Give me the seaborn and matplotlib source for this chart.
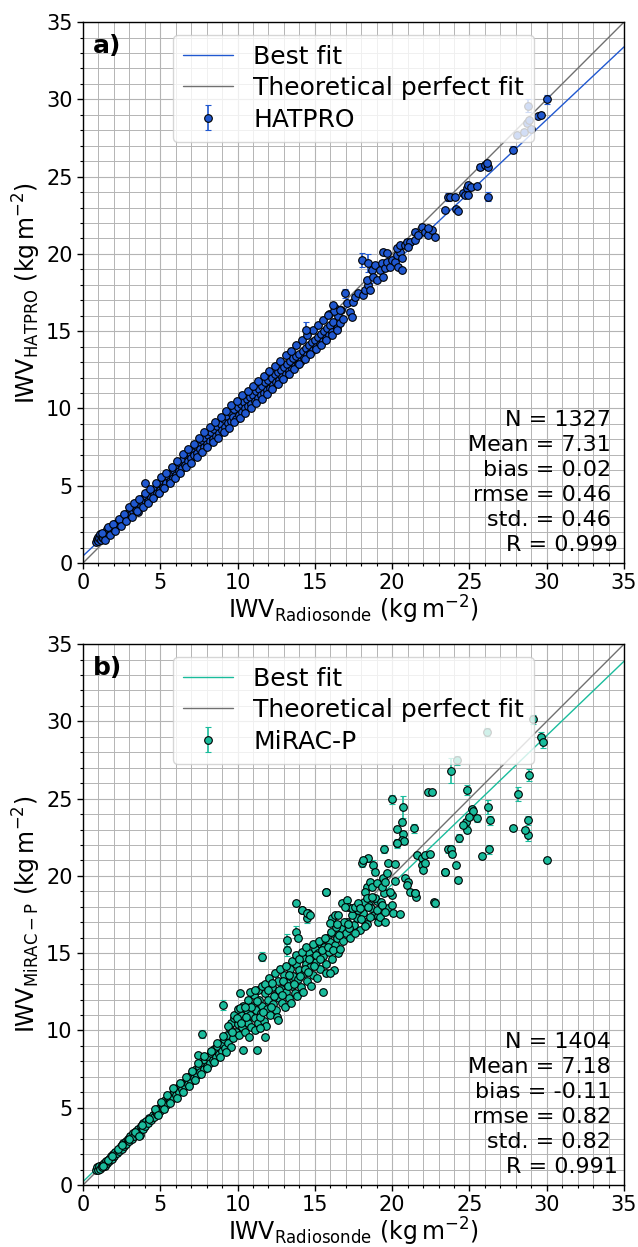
import numpy as np
import matplotlib
matplotlib.use("Agg")
import matplotlib.pyplot as plt
import seaborn as sns
from matplotlib.ticker import MultipleLocator

# ---- panel a: HATPRO vs radiosonde ----
hat_band_x = [0.85, 0.9, 0.95, 1.0, 1.05, 1.1, 1.15, 1.2, 1.3, 1.35, 1.4, 1.5, 1.55, 1.6, 1.7, 1.75, 1.8, 1.9,
              2.0, 2.05, 2.1, 2.2, 2.3, 2.35, 2.45, 2.5, 2.6, 2.7, 2.75, 2.85, 2.9, 3.0, 3.1, 3.2, 3.25, 3.35,
              3.4, 3.5, 3.55, 3.6, 3.7, 3.75, 3.85, 3.9, 4.0, 4.0,
              4.1, 4.2, 4.3, 4.4, 4.5, 4.6, 4.7, 4.8, 4.9, 5.0, 5.1, 5.2, 5.3, 5.4, 5.5, 5.6, 5.7, 5.8, 5.9,
              6.0, 6.1, 6.2, 6.3, 6.4, 6.5, 6.6, 6.7, 6.8, 6.9, 7.0, 7.1, 7.2, 7.3, 7.4, 7.5, 7.6, 7.7, 7.8,
              7.9, 8.0, 8.1, 8.2, 8.3, 8.4, 8.5, 8.6, 8.7, 8.8, 8.9, 9.0,
              9.1, 9.2, 9.3, 9.4, 9.5, 9.6, 9.7, 9.8, 9.9, 10.0, 10.1, 10.2, 10.3, 10.4, 10.5, 10.6, 10.7,
              10.8, 10.9, 11.0, 11.1, 11.2, 11.3, 11.4, 11.5, 11.6, 11.7, 11.8, 11.9, 12.0, 12.1, 12.2, 12.3,
              12.4, 12.5, 12.6, 12.7, 12.8, 12.9, 13.0, 13.1, 13.2, 13.3, 13.4, 13.5, 13.6, 13.7, 13.8, 13.9,
              14.0, 14.1, 14.2, 14.3, 14.4, 14.5, 14.6, 14.7, 14.8, 14.9, 15.0, 15.1, 15.2, 15.3, 15.4, 15.5,
              15.6, 15.7, 15.8, 15.9, 16.0, 16.1, 16.2, 16.3, 16.4, 16.5, 16.6, 16.7, 16.8]
hat_band_y = [1.35, 1.55, 1.7, 1.45, 1.6, 1.85, 1.5, 1.7, 1.6, 1.95, 1.75, 1.9, 2.2, 1.85, 2.05, 2.35, 2.0, 2.3,
              2.2, 2.5, 2.35, 2.6, 2.45, 2.75, 2.65, 2.9, 2.8, 3.05, 2.9, 3.2, 3.0, 3.3, 3.15, 3.55, 3.35, 3.7,
              3.45, 3.85, 3.3, 3.6, 4.0, 3.75, 4.2, 3.9, 4.1, 5.2,
              4.35, 4.0, 4.55, 4.25, 4.7, 4.4, 4.9, 4.55, 5.05, 4.75, 5.25, 4.95, 5.45, 5.15, 5.6, 5.3, 5.8, 5.5, 6.0,
              5.7, 6.2, 5.95, 6.45, 6.15, 6.7, 6.35, 6.95, 6.6, 7.15, 6.8, 7.3, 7.0, 7.55, 7.15, 7.75, 7.35, 7.95, 7.5,
              8.1, 7.7, 8.3, 7.9, 8.5, 8.05, 8.7, 8.25, 8.85, 8.4, 9.0, 8.6,
              9.3, 8.8, 9.5, 9.05, 9.75, 9.2, 9.45, 9.95, 9.35, 10.1, 9.6, 10.3, 9.8, 10.45, 10.0, 10.6, 10.15,
              10.75, 10.3, 10.9, 10.5, 11.1, 10.65, 11.25, 10.85, 11.45, 11.0, 11.7, 11.2, 11.85, 11.35, 12.0, 11.5,
              12.2, 11.7, 12.35, 11.85, 12.5, 12.05, 12.7, 12.2, 12.9, 12.4, 13.05, 12.55, 13.25, 12.75, 13.4, 12.9,
              13.55, 13.1, 13.75, 13.25, 13.9, 13.45, 14.1, 13.6, 14.3, 13.8, 14.45, 14.0, 14.65, 14.2, 14.85, 14.35,
              15.0, 14.55, 15.2, 14.75, 15.4, 14.95, 15.6, 16.5, 15.2, 16.0, 15.5, 16.35, 15.8]
# points along the upper and lower edge of the dense cloud
hat_edge_x = [1.25, 1.6, 1.95, 2.3, 2.65, 3.0, 3.3, 3.65, 4.0, 4.35, 4.7, 5.05, 5.4, 5.75, 6.1, 6.45, 6.8,
              7.15, 7.5, 7.85, 8.2, 8.55, 8.9, 9.25, 9.6, 9.95, 10.3, 10.65, 11.0, 11.35, 11.7, 12.05, 12.4,
              12.75, 13.1, 13.45, 13.8, 14.15, 14.5, 14.85, 15.2, 15.55, 15.9, 16.25,
              1.4, 1.75, 2.1, 2.45, 2.8, 3.15, 3.5, 3.85, 4.2, 4.55, 4.9, 5.25, 5.6, 5.95, 6.3, 6.65, 7.0,
              7.35, 7.7, 8.05, 8.4, 8.75, 9.1, 9.45, 9.8, 10.15, 10.5, 10.85, 11.2, 11.55, 11.9, 12.25, 12.6,
              12.95, 13.3, 13.65, 14.0, 14.35, 14.7, 15.05, 15.4, 15.75, 16.1, 16.45]
hat_edge_y = [1.95, 2.3, 2.55, 2.85, 3.2, 3.6, 3.9, 4.15, 4.55, 4.8, 5.2, 5.55, 5.85, 6.2, 6.6, 7.05, 7.35,
              7.7, 8.1, 8.45, 8.8, 9.15, 9.45, 9.85, 10.2, 10.5, 10.85, 11.15, 11.45, 11.8, 12.1, 12.45, 12.75,
              13.1, 13.45, 13.75, 14.1, 14.4, 14.75, 15.05, 15.4, 15.7, 16.1, 16.3,
              1.5, 1.8, 2.1, 2.4, 2.7, 3.0, 3.35, 3.6, 3.9, 4.2, 4.5, 4.85, 5.15, 5.5, 5.85, 6.2, 6.5,
              6.85, 7.2, 7.5, 7.85, 8.1, 8.5, 8.75, 9.1, 9.4, 9.7, 10.0, 10.35, 10.6, 10.95, 11.25, 11.6,
              11.9, 12.25, 12.55, 12.9, 13.2, 13.5, 13.85, 14.1, 14.45, 14.75, 15.1]
hat_band_err = 0.12

hat_x = [14.45, 15.87, 16.2, 16.63, 17.06, 17.27, 17.38, 16.95, 17.49, 17.6, 17.81, 18.13, 18.24, 18.46, 18.57,
         18.03, 18.46, 18.35, 18.67, 18.78, 18.99, 18.89, 19.21, 19.43, 19.32, 19.54, 19.64, 19.86, 19.97, 19.43,
         19.64, 20.18, 20.4, 20.61, 20.29, 20.5, 20.61, 20.29, 20.5, 20.83, 20.94, 21.15, 21.04, 21.47, 21.47,
         21.69, 21.9, 22.12, 22.34, 22.55, 22.77, 22.34, 23.42, 23.63, 23.73, 24.06, 24.1, 24.25, 24.6, 24.81,
         24.7, 24.92, 25.13, 25.46, 24.92, 25.67, 25.99, 26.21, 26.15, 26.2, 27.8, 28.1, 28.5, 28.7, 28.86,
         28.97, 28.76, 29.45, 29.6, 30.0]
hat_y = [15.1, 16.05, 16.69, 16.37, 16.8, 16.26, 15.94, 17.45, 16.9, 17.23, 17.45, 17.34, 17.66, 17.98, 17.66,
         19.6, 19.4, 18.31, 18.95, 18.52, 18.31, 19.28, 18.95, 18.52, 19.39, 19.06, 19.49, 19.17, 19.6, 20.14,
         20.03, 19.49, 19.17, 18.95, 19.92, 20.14, 19.71, 20.36, 20.57, 20.57, 20.79, 20.79, 20.46, 20.9, 21.43,
         21.22, 21.76, 21.43, 21.22, 21.54, 21.11, 21.65, 22.83, 23.7, 23.7, 23.7, 22.9, 22.78, 23.92, 24.24,
         23.81, 24.46, 24.35, 24.39, 23.81, 25.64, 25.75, 25.64, 25.86, 23.7, 26.75, 27.7, 27.9, 28.45, 28.66,
         28.1, 29.6, 28.9, 29.0, 30.0]
hat_err = [0.5, 0.15, 0.15, 0.15, 0.15, 0.15, 0.15, 0.3, 0.15, 0.15, 0.15, 0.15, 0.15, 0.15, 0.15,
           0.45, 0.6, 0.15, 0.15, 0.15, 0.15, 0.2, 0.15, 0.15, 0.15, 0.15, 0.15, 0.15, 0.15, 0.15,
           0.15, 0.15, 0.15, 0.15, 0.15, 0.15, 0.15, 0.15, 0.15, 0.15, 0.15, 0.15, 0.15, 0.15, 0.2,
           0.15, 0.2, 0.15, 0.15, 0.15, 0.15, 0.15, 0.15, 0.25, 0.2, 0.15, 0.15, 0.15, 0.15, 0.15,
           0.15, 0.15, 0.15, 0.15, 0.15, 0.2, 0.2, 0.15, 0.15, 0.3, 0.2, 0.2, 0.15, 0.2, 0.15,
           0.15, 0.45, 0.15, 0.15, 0.3]
hat_fit = (0.941, 0.46)
hat_stats = ["N = 1327 ", "Mean = 7.31 ", "bias = 0.02 ", "rmse = 0.46 ", "std. = 0.46 ", "R = 0.999"]

# ---- panel b: MiRAC-P vs radiosonde ----
mir_band_x = [0.85, 0.9, 1.0, 1.05, 1.1, 1.2, 1.25, 1.35, 1.4, 1.5, 1.55, 1.65, 1.7, 1.8, 1.85, 1.95, 2.0, 2.1,
              2.2, 2.3, 2.35, 2.45, 2.5, 2.6, 2.65, 2.75, 2.8, 2.9, 3.0, 3.05, 3.15, 3.25, 3.3, 3.4, 3.5, 3.55,
              3.65, 3.7, 3.75, 3.85, 3.9, 4.0, 4.1, 4.2, 4.3, 4.4, 4.5,
              4.6, 4.7, 4.8, 4.9, 5.0, 5.1, 5.2, 5.3, 5.4, 5.5, 5.6, 5.7, 5.8, 5.9, 6.0, 6.1, 6.2, 6.3, 6.4,
              6.5, 6.6, 6.7, 6.8, 6.9, 7.0, 7.1, 7.2, 7.3, 7.4, 7.45, 7.5, 7.6, 7.7, 7.8, 7.9, 8.0, 8.1, 8.2,
              8.3, 8.4, 8.5, 8.6, 8.7, 8.8, 8.9, 9.0, 9.1, 9.2,
              9.3, 9.4, 9.5, 9.55, 9.6, 9.7, 9.8, 9.9, 10.0, 10.1, 10.2, 10.3, 10.4, 10.5, 10.6, 10.7, 10.8,
              10.9, 11.0, 11.1, 11.2, 11.3, 11.4, 11.5, 11.6, 11.7, 11.8, 11.9, 12.0, 12.1, 12.2, 12.3, 12.4,
              12.5, 12.6, 12.7, 12.8, 12.9, 13.0, 13.1, 13.2, 13.3, 13.4, 13.5, 13.6, 13.7, 13.8, 13.9, 14.0,
              14.1, 14.2, 14.3, 14.4, 14.5, 14.6, 14.7, 14.8, 14.9, 15.0, 15.1, 15.2, 15.3, 15.4, 15.5, 15.6,
              15.7, 15.8, 15.9, 16.0, 16.1, 16.2, 16.3, 16.4, 16.5, 16.7, 16.8, 17.0, 17.1, 17.3, 17.5, 17.7,
              17.9, 18.1, 18.3, 18.5, 18.8, 19.0, 19.2]
mir_band_y = [1.0, 1.15, 0.95, 1.2, 1.05, 1.3, 1.15, 1.4, 1.25, 1.55, 1.4, 1.7, 1.55, 1.85, 1.7, 2.0, 1.85, 2.15,
              2.05, 2.35, 2.2, 2.5, 2.35, 2.7, 2.5, 2.85, 2.65, 3.0, 2.85, 3.2, 3.0, 3.35, 3.15, 3.5, 3.3, 3.65,
              3.45, 3.25, 3.8, 3.6, 4.0, 3.8, 4.15, 4.0, 4.35, 4.2, 4.55,
              4.4, 4.75, 4.6, 5.0, 4.8, 5.25, 5.0, 5.5, 5.2, 5.7, 5.45, 5.85, 5.6, 6.05, 5.8, 6.25, 6.0, 6.45, 6.2,
              6.6, 6.4, 6.85, 6.55, 7.05, 6.75, 7.3, 6.95, 7.5, 7.1, 8.4, 7.65, 7.3, 7.9, 7.5, 8.1, 7.7, 8.3, 7.9,
              8.55, 8.1, 8.8, 8.3, 9.0, 8.5, 9.2, 8.7, 9.45, 8.85,
              9.7, 9.2, 10.1, 8.95, 10.5, 9.5, 10.8, 9.9, 10.4, 9.7, 11.0, 10.2, 10.7, 9.9, 11.3, 10.5, 11.0,
              10.2, 11.6, 10.8, 11.3, 10.5, 12.0, 11.1, 11.6, 10.6, 12.4, 11.4, 12.0, 11.0, 12.8, 11.7, 12.3,
              11.3, 13.2, 12.1, 12.7, 11.8, 13.6, 12.5, 13.1, 12.1, 14.0, 12.9, 13.5, 12.4, 14.3, 13.3, 13.9,
              12.8, 14.7, 13.7, 14.3, 13.2, 15.0, 14.1, 14.7, 13.6, 15.3, 14.4, 15.0, 14.0, 15.6, 14.8, 15.4,
              14.3, 16.0, 15.1, 15.7, 14.6, 16.3, 15.5, 16.0, 15.0, 16.6, 15.8, 16.3, 17.0, 16.0, 16.8, 17.3,
              16.5, 17.6, 17.0, 18.1, 17.5, 18.4, 17.8]
# extra points filling the spread of the cloud
mir_edge_x = [1.3, 1.6, 1.9, 2.25, 2.55, 2.95, 3.35, 3.6, 3.8, 4.25,
              4.65, 5.05, 5.45, 5.85, 6.25, 6.65, 7.05, 7.45, 7.85, 8.25, 8.65, 9.05,
              4.85, 5.25, 5.65, 6.05, 6.45, 6.85, 7.25, 7.65, 8.05, 8.45, 8.85, 9.25,
              9.35, 9.65, 9.75, 9.95, 10.05, 10.25, 10.35, 10.55, 10.65, 10.75, 10.85, 11.05, 11.15, 11.25,
              11.35, 11.45, 11.55, 11.65, 11.75, 11.85, 11.95, 12.05, 12.15, 12.25, 12.35, 12.45, 12.55, 12.65,
              12.75, 12.85, 12.95, 13.05, 13.15, 13.25, 13.35, 13.45, 13.55, 13.65, 13.75, 13.85, 13.95, 14.05,
              14.15, 14.25, 14.35, 14.45, 14.55, 14.65, 14.75, 14.85, 14.95, 15.05, 15.15, 15.25, 15.35, 15.45,
              15.65, 15.75, 15.85, 16.05, 16.15, 16.25, 16.35, 16.55, 16.65, 16.9, 17.2, 17.4, 17.6, 17.8,
              18.0, 18.2, 18.4, 18.6, 18.9, 19.1, 19.3, 19.5, 19.7]
mir_edge_y = [1.2, 1.6, 1.9, 2.3, 2.6, 2.95, 3.4, 3.2, 3.9, 4.3,
              4.9, 5.35, 5.85, 6.25, 6.6, 7.0, 7.4, 7.9, 8.35, 8.7, 9.2, 9.65,
              4.5, 4.9, 5.3, 5.65, 6.05, 6.4, 6.8, 7.2, 7.55, 7.95, 8.3, 8.6,
              10.3, 9.9, 11.0, 10.8, 11.4, 10.5, 11.6, 10.9, 12.0, 9.6, 11.5, 12.3, 10.0, 11.9,
              12.6, 10.9, 12.9, 11.2, 13.0, 10.3, 12.6, 13.4, 11.5, 13.1, 12.2, 13.7, 10.9, 12.6,
              14.0, 12.3, 13.2, 11.5, 14.2, 12.9, 13.6, 11.8, 14.5, 13.0, 14.9, 12.2, 14.6, 13.5,
              15.1, 12.5, 14.0, 15.4, 13.8, 14.6, 12.9, 15.6, 14.2, 14.9, 13.4, 15.8, 14.6, 15.2,
              16.0, 13.7, 15.4, 16.4, 15.2, 13.9, 16.7, 16.2, 15.3, 17.0, 16.6, 17.5, 16.3, 17.8,
              17.2, 18.3, 16.9, 17.9, 18.6, 17.4, 18.3, 18.9, 17.9]
mir_band_err = 0.15

mir_x = [7.67, 9.07, 11.55, 10.15, 10.8, 11.12, 10.15, 10.47, 11.23, 10.36, 11.77, 11.44, 12.63, 15.54, 13.17,
         13.81, 13.92, 13.17, 13.81, 14.14, 14.46, 14.57, 15.71, 16.0, 14.15, 14.47, 14.69, 15.72, 16.09, 16.3,
         16.52, 16.73, 17.06, 17.16, 17.38, 17.6, 17.81, 17.92, 15.98, 16.41, 16.95, 17.16, 18.24, 18.03, 18.46,
         18.14, 18.78, 18.89, 18.35, 18.24, 18.57, 18.67, 18.35, 18.46, 18.57, 19.0, 19.1, 19.21, 18.67, 19.0,
         19.32, 19.43, 19.54, 19.64, 19.75, 20.18, 20.18, 19.32, 19.54, 19.54, 19.97, 19.97, 20.07, 20.5, 19.86,
         19.49, 20.01, 20.68, 20.63, 20.33, 20.72, 20.61, 20.29, 20.76, 21.41, 20.83, 21.04, 20.94, 21.15, 21.47,
         21.52, 21.58, 21.9, 22.12, 22.44, 21.9, 22.0, 22.12, 22.72, 22.34, 22.6, 23.41, 23.63, 23.78, 24.17,
         24.81, 25.14, 26.15, 26.21, 28.15, 28.86, 29.12, 29.6, 29.73, 28.79, 28.79, 28.6, 27.82, 30.0, 26.25,
         25.8, 26.33, 25.26, 25.5, 24.76, 24.97, 24.84, 24.6, 24.34, 23.81, 23.89, 24.1, 24.25, 23.45, 22.77,
         21.46, 20.32]
mir_y = [9.77, 11.65, 14.77, 12.4, 12.5, 12.62, 11.43, 11.54, 8.74, 8.74, 9.6, 10.14, 10.67, 12.51, 15.85,
         16.39, 15.96, 15.2, 18.22, 17.79, 17.25, 17.57, 18.97, 13.7, 17.79, 17.58, 17.47, 18.98, 17.25, 17.47,
         17.47, 18.27, 18.44, 18.0, 17.9, 18.0, 18.22, 17.9, 16.93, 16.89, 18.0, 16.86, 16.76, 20.81, 21.13,
         21.02, 20.7, 20.27, 19.3, 18.98, 19.62, 19.3, 18.55, 18.0, 17.36, 17.79, 17.04, 17.36, 18.65, 19.51,
         19.3, 19.84, 19.62, 20.16, 20.81, 20.77, 19.69, 18.11, 17.68, 17.04, 18.11, 18.76, 17.58, 17.53, 18.98,
         21.74, 24.95, 24.47, 23.5, 23.03, 22.7, 22.32, 22.1, 22.27, 23.07, 19.84, 19.62, 19.41, 18.98, 18.87,
         18.65, 21.35, 21.13, 21.35, 21.41, 20.7, 20.38, 20.81, 18.29, 25.44, 25.44, 20.27, 21.71, 26.8, 27.49,
         25.55, 24.3, 29.32, 24.47, 25.29, 26.52, 30.12, 29.0, 28.68, 23.6, 22.64, 22.97, 23.08, 21.03, 21.73,
         21.3, 23.6, 24.2, 23.72, 23.5, 23.8, 23.0, 23.3, 22.43, 21.72, 21.4, 20.71, 19.74, 20.27, 18.27,
         18.87, 22.1]
mir_err = [0.25, 0.3, 0.3, 0.15, 0.15, 0.15, 0.15, 0.15, 0.15, 0.15, 0.15, 0.15, 0.15, 0.15, 0.4,
           0.4, 0.2, 0.4, 0.15, 0.15, 0.3, 0.15, 0.2, 0.15, 0.15, 0.15, 0.15, 0.2, 0.15, 0.15,
           0.15, 0.15, 0.15, 0.15, 0.15, 0.15, 0.15, 0.15, 0.15, 0.15, 0.15, 0.15, 0.15, 0.25, 0.2,
           0.2, 0.3, 0.2, 0.15, 0.15, 0.15, 0.15, 0.15, 0.15, 0.15, 0.15, 0.15, 0.15, 0.15, 0.15,
           0.15, 0.2, 0.15, 0.15, 0.15, 0.15, 0.15, 0.15, 0.15, 0.15, 0.15, 0.15, 0.15, 0.15, 0.15,
           0.25, 0.3, 0.7, 0.2, 0.2, 0.2, 0.2, 0.3, 0.2, 0.3, 0.15, 0.15, 0.15, 0.15, 0.15,
           0.15, 0.2, 0.15, 0.15, 0.15, 0.15, 0.15, 0.15, 0.2, 0.15, 0.15, 0.2, 0.2, 0.8, 0.3,
           0.3, 0.15, 0.25, 0.45, 0.45, 0.4, 0.3, 0.3, 0.4, 0.3, 0.35, 0.2, 0.2, 0.2, 0.3,
           0.2, 0.3, 0.2, 0.2, 0.2, 0.2, 0.2, 0.2, 0.25, 0.25, 0.2, 0.2, 0.2, 0.2, 0.25,
           0.2, 0.2]
mir_fit = (0.962, 0.22)
mir_stats = ["N = 1404 ", "Mean = 7.18 ", "bias = -0.11 ", "rmse = 0.82 ", "std. = 0.82 ", "R = 0.991"]

BLUE = "#2058d0"
TEAL = "#1abc9c"

sns.set_theme(style="white")
plt.rcParams['font.family'] = ['DejaVu Sans']
plt.rcParams['mathtext.fontset'] = 'dejavusans'
plt.rcParams.update({"text.color": "black", "axes.labelcolor": "black",
                     "xtick.color": "black", "ytick.color": "black"})

fig = plt.figure(figsize=(6.38, 12.47), dpi=100)
ax_a = fig.add_axes([0.1301, 0.5485, 0.848, 0.4338])
ax_b = fig.add_axes([0.1301, 0.0497, 0.848, 0.4338])


def draw_panel(ax, band_x, band_y, band_err, x, y, err, fit, color, name, ylab, stats, tag):
    line_x = np.array([0.0, 35.0])
    sns.lineplot(x=line_x, y=fit[0] * line_x + fit[1], ax=ax, color=color, lw=1.0,
                 label="Best fit", zorder=1.5)
    sns.lineplot(x=line_x, y=line_x, ax=ax, color="#707070", lw=1.0,
                 label="Theoretical perfect fit", zorder=1.5)
    all_x = np.concatenate([band_x, x])
    all_y = np.concatenate([band_y, y])
    all_e = np.concatenate([np.full(len(band_x), band_err), err])
    ax.errorbar(all_x, all_y, yerr=all_e, fmt="o", ms=5.5, mfc=color, mec="black", mew=0.8,
                ecolor=color, elinewidth=1.2, capsize=2.5, capthick=1.2, label=name, zorder=2)

    ax.set_xlim(0, 35)
    ax.set_ylim(0, 35)
    ax.xaxis.set_major_locator(MultipleLocator(5))
    ax.yaxis.set_major_locator(MultipleLocator(5))
    ax.xaxis.set_minor_locator(MultipleLocator(1))
    ax.yaxis.set_minor_locator(MultipleLocator(1))
    ax.grid(which="major", color="#b4b4b4", lw=0.8)
    ax.grid(which="minor", color="#b4b4b4", lw=0.7)
    ax.set_axisbelow(True)
    ax.tick_params(which="major", direction="out", length=4, width=1, labelsize=15,
                   bottom=True, left=True)
    ax.tick_params(which="minor", direction="out", length=2.5, width=0.8, bottom=True, left=True)
    for sp in ax.spines.values():
        sp.set_color("black")
        sp.set_linewidth(1.0)

    ax.set_xlabel(r"IWV$_{\mathrm{Radiosonde}}$ ($\mathrm{kg\,m^{-2}}$)", fontsize=17, labelpad=0)
    ax.set_ylabel(ylab, fontsize=17, labelpad=2)

    ax.legend(loc="upper center", fontsize=18, framealpha=0.8, labelspacing=0.3)
    ax.text(0.989, 0.014, "\n".join(stats), transform=ax.transAxes, ha="right", va="bottom",
            multialignment="right", fontsize=16, linespacing=1.32)
    ax.text(0.018, 0.978, tag, transform=ax.transAxes, ha="left", va="top",
            fontsize=18, fontweight="bold")


draw_panel(ax_a, hat_band_x + hat_edge_x, hat_band_y + hat_edge_y, hat_band_err, hat_x, hat_y, hat_err,
           hat_fit, BLUE, "HATPRO", r"IWV$_{\mathrm{HATPRO}}$ ($\mathrm{kg\,m^{-2}}$)", hat_stats, "a)")
draw_panel(ax_b, mir_band_x + mir_edge_x, mir_band_y + mir_edge_y, mir_band_err, mir_x, mir_y, mir_err,
           mir_fit, TEAL, "MiRAC-P", r"IWV$_{\mathrm{MiRAC-P}}$ ($\mathrm{kg\,m^{-2}}$)", mir_stats, "b)")

fig.savefig("out.png", dpi=100)
